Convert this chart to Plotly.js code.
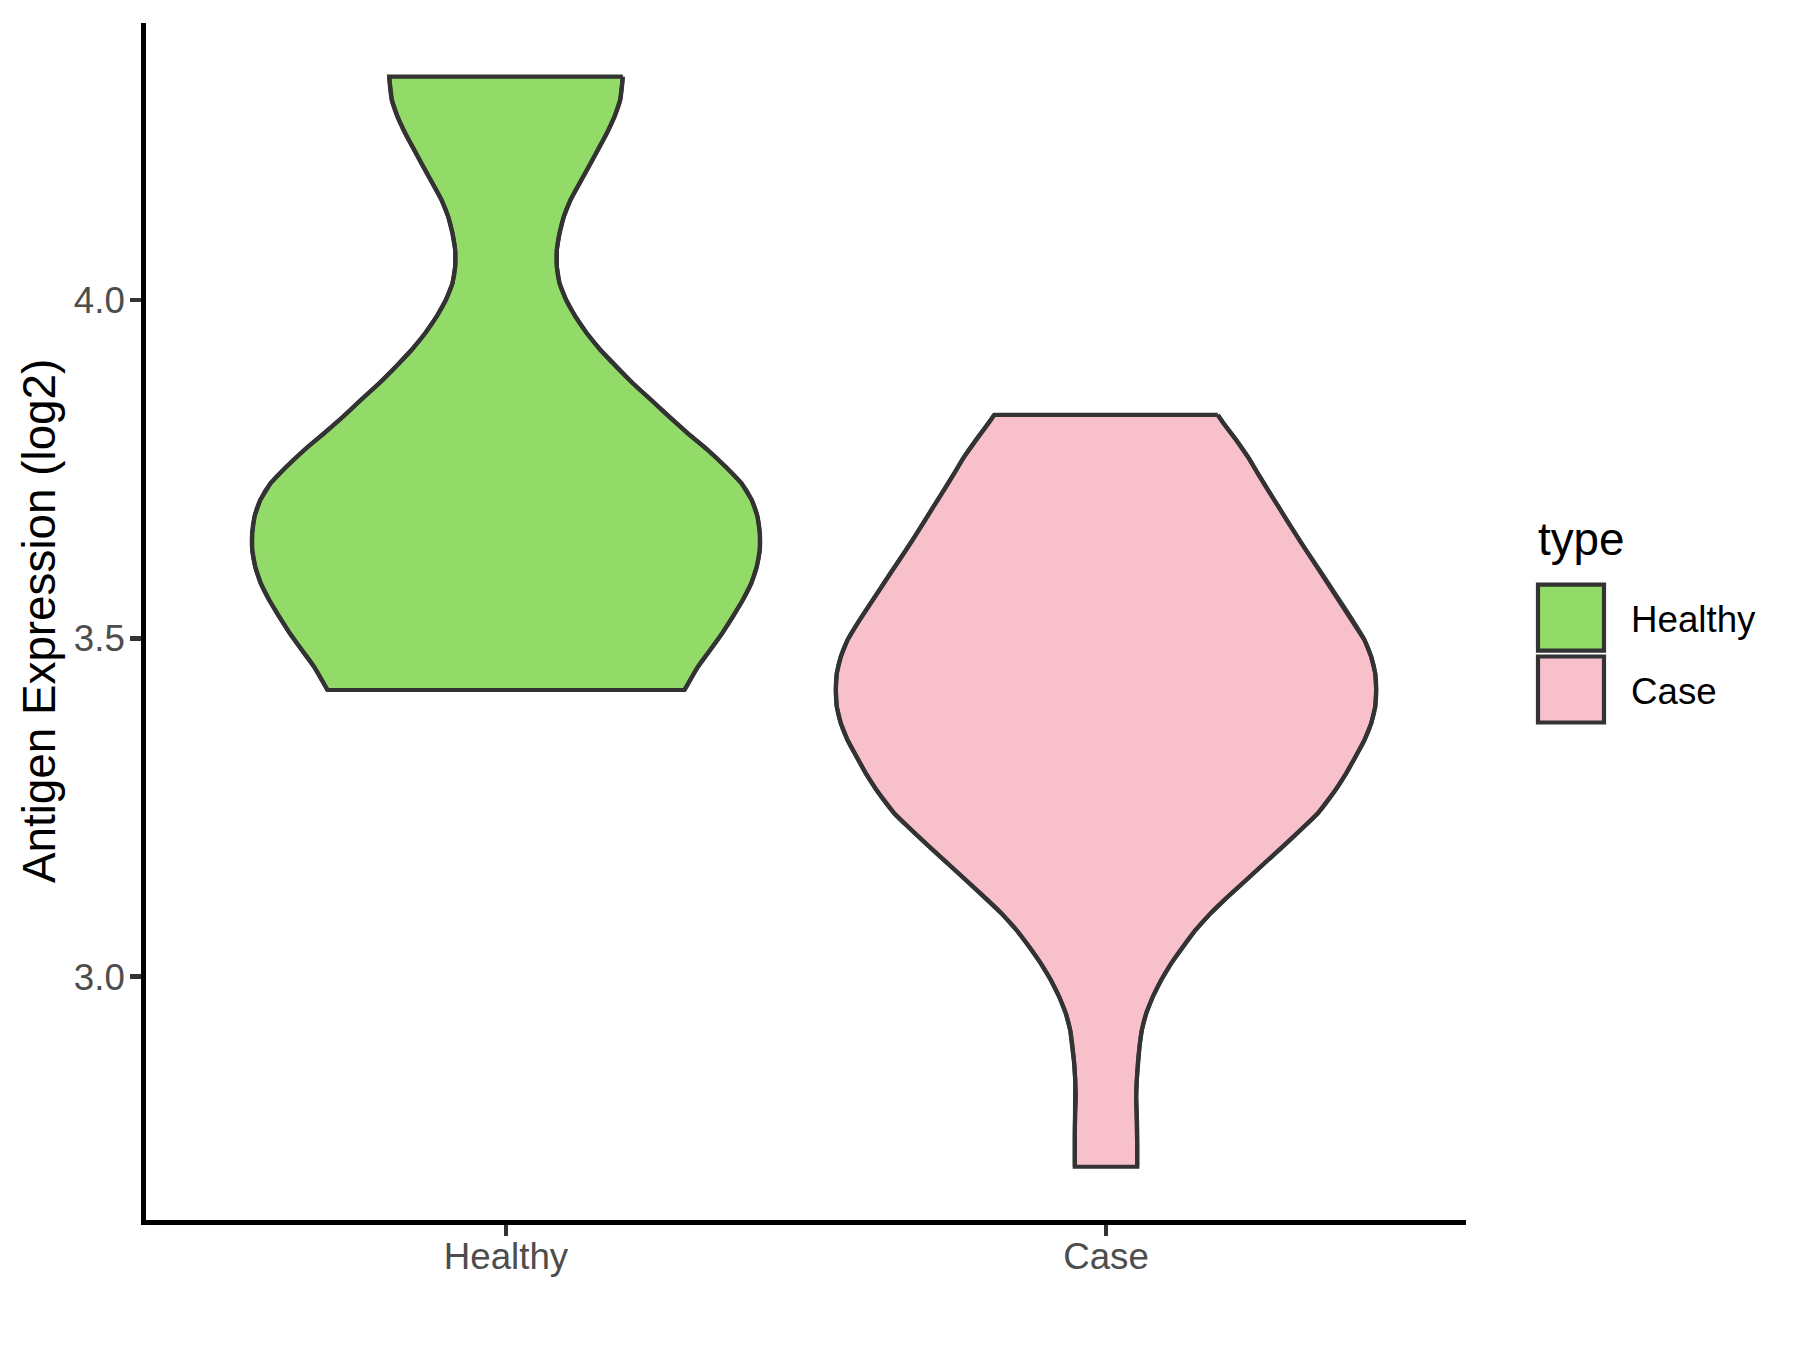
<!DOCTYPE html>
<html>
<head>
<meta charset="utf-8">
<script src="https://cdn.plot.ly/plotly-3.0.1.min.js"></script>
<style>
html, body { margin: 0; padding: 0; background: #ffffff; }
#chart { width: 1800px; height: 1350px; }
</style>
</head>
<body>
<div id="chart"></div>
<script>
// ---------------- data ----------------
const categories = ['Healthy', 'Case'];
const legendTitle = 'type';
const yAxisTitle = 'Antigen Expression (log2)';
const yTickVals = [3.0, 3.5, 4.0];

// violin outline: expression value and half-width of the density (x-axis units), top to bottom
const healthyY = [4.3300, 4.2956, 4.2709, 4.2463, 4.2217, 4.1970, 4.1725, 4.1478, 4.1231, 4.0986,
  4.0739, 4.0492, 4.0247, 4.0000, 3.9753, 3.9508, 3.9261, 3.9014, 3.8769, 3.8522,
  3.8275, 3.8030, 3.7783, 3.7537, 3.7291, 3.7044, 3.6798, 3.6552, 3.6305, 3.6059,
  3.5813, 3.5566, 3.5320, 3.5074, 3.4828, 3.4581, 3.4385, 3.4237];
const healthyWidth = [0.1947, 0.1903, 0.1808, 0.1680, 0.1530, 0.1380, 0.1225, 0.1075, 0.0963, 0.0892,
  0.0847, 0.0847, 0.0892, 0.1003, 0.1158, 0.1347, 0.1575, 0.1837, 0.2113, 0.2420,
  0.2717, 0.3030, 0.3363, 0.3660, 0.3925, 0.4097, 0.4192, 0.4231, 0.4230, 0.4180,
  0.4087, 0.3947, 0.3780, 0.3603, 0.3403, 0.3200, 0.3070, 0.2975];

const caseY = [3.8301, 3.8178, 3.7931, 3.7684, 3.7439, 3.7192, 3.6945, 3.6700, 3.6453, 3.6206,
  3.5961, 3.5714, 3.5468, 3.5222, 3.4975, 3.4729, 3.4483, 3.4237, 3.3990, 3.3744,
  3.3498, 3.3251, 3.3005, 3.2759, 3.2414, 3.2168, 3.1921, 3.1676, 3.1429, 3.1182,
  3.0936, 3.0690, 3.0443, 3.0197, 2.9951, 2.9704, 2.9458, 2.9212, 2.8965, 2.8719,
  2.8473, 2.8226, 2.7980, 2.7734, 2.7487, 2.7192];
const caseWidth = [0.1863, 0.1958, 0.2170, 0.2363, 0.2530, 0.2697, 0.2875, 0.3047, 0.3225, 0.3408,
  0.3597, 0.3780, 0.3963, 0.4142, 0.4308, 0.4420, 0.4487, 0.4503, 0.4487, 0.4420,
  0.4308, 0.4158, 0.4003, 0.3825, 0.3530, 0.3242, 0.2947, 0.2642, 0.2337, 0.2030,
  0.1742, 0.1492, 0.1280, 0.1087, 0.0920, 0.0780, 0.0670, 0.0597, 0.0558, 0.0530,
  0.0513, 0.0503, 0.0513, 0.0520, 0.0520, 0.0520];

// ---------------- styles ----------------
const fillColors = ['#93DB69', '#F8C0CB'];
const outlineColor = '#333333';
const outlineWidth = 4.2;
const fontFamily = 'Liberation Sans, Arial, Helvetica, sans-serif';

// ---------------- build ----------------
const series = [
  { name: categories[0], y: healthyY, w: healthyWidth },
  { name: categories[1], y: caseY, w: caseWidth }
];

const traces = [];
series.forEach((s, i) => {
  const center = i + 1;
  const right = s.y.map((v, k) => center + s.w[k]);
  const left = s.y.map((v, k) => center - s.w[k]);
  // closed filled body (flat trimmed ends)
  const px = right.concat(left.slice().reverse(), [right[0]]);
  const py = s.y.concat(s.y.slice().reverse(), [s.y[0]]);
  traces.push({
    type: 'scatter', mode: 'lines', name: s.name, x: px, y: py,
    fill: 'toself', fillcolor: fillColors[i],
    line: { color: outlineColor, width: outlineWidth, shape: 'linear' },
    hoverinfo: 'name', showlegend: false
  });
  // smooth density edges drawn on top
  [right, left].forEach(side => {
    traces.push({
      type: 'scatter', mode: 'lines', x: side, y: s.y,
      line: { color: outlineColor, width: outlineWidth, shape: 'spline', smoothing: 1 },
      hoverinfo: 'skip', showlegend: false
    });
  });
});

// plot area in pixels
const W = 1800, H = 1350;
const mL = 146, mR = 334, mT = 23, mB = 130;
const pw = W - mL - mR, ph = H - mT - mB;
const px2x = p => (p - mL) / pw;
const px2y = p => (H - mB - p) / ph;

const shapes = [];
const annotations = [];

// legend (ggplot-style)
const keyLeft = 1538, keyRight = 1604, keyTop = 584.7, keyStep = 71.8, keySize = 66;
categories.forEach((c, i) => {
  const top = keyTop + i * keyStep;
  shapes.push({
    type: 'rect', xref: 'paper', yref: 'paper',
    x0: px2x(keyLeft), x1: px2x(keyRight), y0: px2y(top + keySize), y1: px2y(top),
    fillcolor: fillColors[i], line: { color: outlineColor, width: outlineWidth }, layer: 'above'
  });
  annotations.push({
    xref: 'paper', yref: 'paper', x: px2x(1628.5), y: px2y(top + keySize / 2 + 2),
    xanchor: 'left', yanchor: 'middle', showarrow: false, text: c,
    font: { family: fontFamily, size: 36.7, color: '#000000' }
  });
});
annotations.push({
  xref: 'paper', yref: 'paper', x: px2x(1535.5), y: px2y(539.5),
  xanchor: 'left', yanchor: 'middle', showarrow: false, text: legendTitle,
  font: { family: fontFamily, size: 45.8, color: '#000000' }
});
// y-axis title
annotations.push({
  xref: 'paper', yref: 'paper', x: px2x(39.6), y: 0.5,
  xanchor: 'center', yanchor: 'middle', showarrow: false, textangle: -90,
  text: yAxisTitle, font: { family: fontFamily, size: 45.8, color: '#000000' }
});

const axisCommon = {
  showgrid: false, zeroline: false, showline: true, linecolor: '#000000', linewidth: 4.8,
  ticks: 'outside', ticklen: 11, tickwidth: 4.8, tickcolor: '#333333',
  tickfont: { family: fontFamily, size: 36.7, color: '#4D4D4D' }, fixedrange: true
};

const layout = {
  width: W, height: H,
  margin: { l: mL, r: mR, t: mT, b: mB, pad: 0 },
  paper_bgcolor: '#ffffff', plot_bgcolor: '#ffffff',
  showlegend: false,
  xaxis: Object.assign({}, axisCommon, {
    range: [0.4, 2.6], tickmode: 'array', tickvals: categories.map((c, i) => i + 1), ticktext: categories,
    ticklabelstandoff: -11
  }),
  yaxis: Object.assign({}, axisCommon, {
    range: [2.6405, 4.4093], tickmode: 'array', tickvals: yTickVals, tickformat: '.1f',
    ticklabelstandoff: -2
  }),
  shapes: shapes,
  annotations: annotations
};

Plotly.newPlot('chart', traces, layout, { displayModeBar: false, staticPlot: true });
</script>
</body>
</html>
